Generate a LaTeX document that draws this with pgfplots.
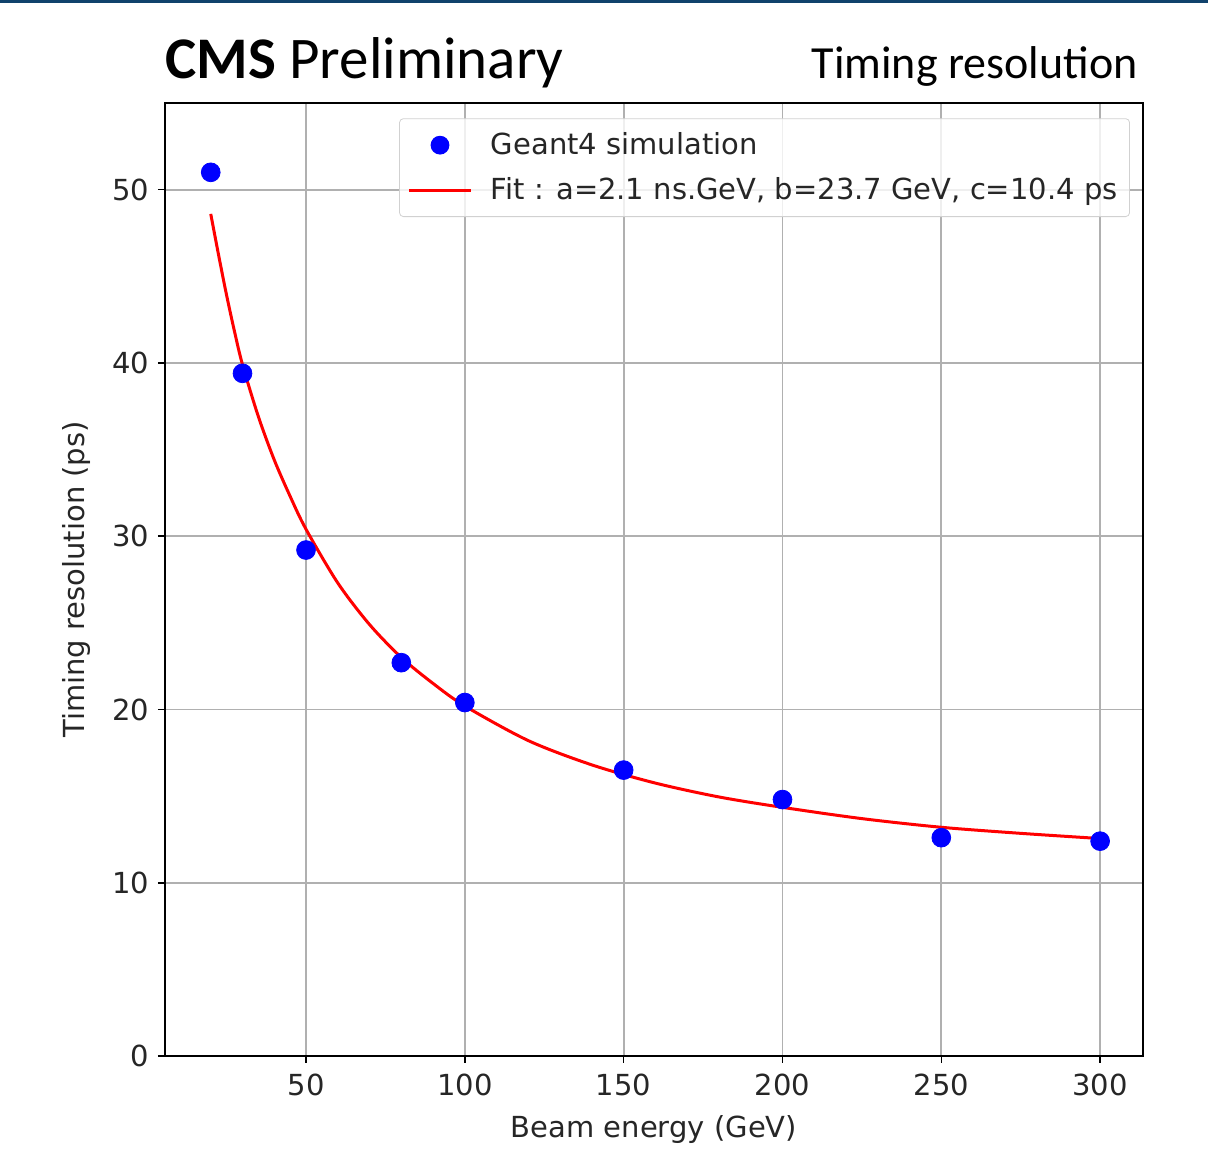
\documentclass[border=0pt]{standalone}
\usepackage{fontspec}
\setmainfont{DejaVu Sans}
\newfontfamily\carlito{Carlito}
\usepackage{pgfplots}
\pgfplotsset{compat=1.18}
\definecolor{topbar}{RGB}{16,66,108}
\definecolor{gridgray}{RGB}{176,176,176}
\begin{document}
\begin{tikzpicture}
\path[use as bounding box] (-82.5bp,-48bp) rectangle (521.5bp,528bp);
\fill[topbar] (-82.5bp,526.5bp) rectangle (521.5bp,528bp);
\begin{axis}[
  at={(0,0)}, anchor=south west,
  scale only axis, width=489bp, height=476.5bp,
  xmin=5.6, xmax=313.5, ymin=0, ymax=55,
  xtick={50,100,150,200,250,300},
  ytick={0,10,20,30,40,50},
  grid=major,
  major grid style={gridgray, line width=0.9bp},
  axis line style={black, line width=0.9bp},
  tick align=outside, tick pos=left,
  major tick length=3.5bp,
  tick style={black, line width=0.8bp},
  /pgf/number format/assume math mode=true,
  ticklabel style={font=\fontsize{14.5bp}{16bp}\selectfont, text=black!85},
  xticklabel style={yshift=-2bp},
  yticklabel style={xshift=-1bp},
  xlabel={Beam energy (GeV)},
  ylabel={Timing resolution (ps)},
  label style={font=\fontsize{14.5bp}{16bp}\selectfont, text=black!85},
  xlabel style={at={(axis description cs:0.5,0)}, anchor=center, yshift=-37bp},
  ylabel style={at={(axis description cs:0,0.5)}, anchor=center, yshift=44bp},
  legend style={at={(axis description cs:0.9867,0.984)}, anchor=north east,
    font=\fontsize{14.5bp}{16bp}\selectfont, text=black!85,
    draw=black!18, fill=white, fill opacity=0.8, text opacity=1,
    rounded corners=2bp, row sep=6bp, inner xsep=4bp, inner ysep=5bp},
  legend cell align=left,
  clip=false,
]
\addlegendimage{draw=none, legend image code/.code={\path[draw=none, fill=none] (0bp,0bp) -- (39bp,0bp); \fill[blue, draw=none, fill opacity=1] (15.5bp,0bp) circle (4.7bp);}}
\addlegendentry{Geant4 simulation}
\addlegendimage{draw=none, legend image code/.code={\path[draw=none, fill=none] (0bp,0bp) -- (39bp,0bp); \draw[red, draw opacity=1, line width=1.5bp] (0bp,0bp) -- (31bp,0bp);}}
\addlegendentry{Fit : a=2.1 ns.GeV, b=23.7 GeV, c=10.4 ps}
\addplot[red, line width=1.5bp, smooth, forget plot] coordinates {
(20,48.6) (22.5,46.2) (25,43.9) (27.5,41.8) (30,39.9) (35,36.9) (40,34.4) (45,32.3) (50,30.4) (60,27.3) (70,24.9)
(80,23.0) (90,21.5) (100,20.2) (120,18.2) (140,16.8) (160,15.75)
(180,14.95) (200,14.35) (225,13.7) (250,13.2) (275,12.85) (300,12.55)
};
\addplot[only marks, mark=*, mark size=4.7bp, blue, mark options={draw=blue, fill=blue}, forget plot] coordinates {
(20,51.0) (30,39.4) (50,29.2) (80,22.7) (100,20.4) (150,16.5) (200,14.8) (250,12.6) (300,12.4)
};
\node[anchor=base west, inner sep=0pt, font=\carlito\fontsize{29.5bp}{32bp}\selectfont] at ([yshift=12.5bp]rel axis cs:0,1) {\textbf{CMS} Preliminary};
\node[anchor=base east, inner sep=0pt, font=\carlito\fontsize{23bp}{26bp}\selectfont] at ([yshift=12.5bp, xshift=-2.5bp]rel axis cs:1,1) {Timing resolution};
\end{axis}
\end{tikzpicture}
\end{document}
